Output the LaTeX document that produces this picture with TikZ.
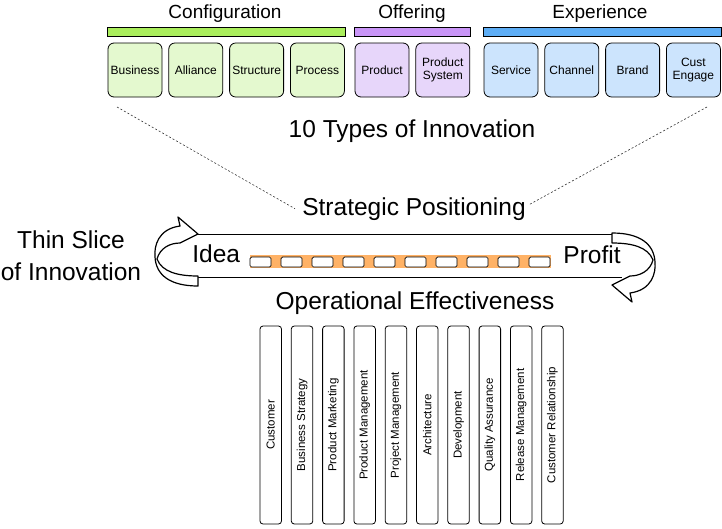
\documentclass[tikz,border=0pt]{standalone}
\usepackage{fontspec}
\setmainfont{Liberation Sans}
\usetikzlibrary{positioning}

\definecolor{cfgbar}{HTML}{AAEE5C}
\definecolor{cfgfill}{HTML}{E4F9CF}
\definecolor{offbar}{HTML}{C995F7}
\definecolor{offfill}{HTML}{E7D6FA}
\definecolor{expbar}{HTML}{5DADF5}
\definecolor{expfill}{HTML}{CCE4FD}
\definecolor{chain}{HTML}{FFB266}

\newcommand{\uturnarrow}{%
  \draw[turnarrow] (198,234) -- (178,217) -- (180,226)
    .. controls (158,229) and (154,246) .. (155,257)
    .. controls (156,275) and (170,286) .. (198,286) -- (198,276)
    .. controls (178,276) and (162,272) .. (157,259)
    .. controls (160,248) and (170,243) .. (180,243) -- cycle;}

\begin{document}
\begin{tikzpicture}[x=1pt, y=-1pt, line width=0.8pt,
  typebox/.style={draw, rounded corners=6pt, minimum width=54pt, minimum height=54pt,
    inner sep=1pt, align=center, font=\fontsize{12}{13}\selectfont},
  groupbar/.style={draw, line width=0.6pt},
  grouptitle/.style={anchor=base, font=\fontsize{19}{22}\selectfont},
  bigtext/.style={anchor=base, inner sep=0pt, font=\fontsize{24.5}{30}\selectfont},
  sprint/.style={draw, fill=white, rounded corners=1.5pt, line width=0.7pt,
    minimum width=21pt, minimum height=10pt, inner sep=0pt},
  rolebox/.style={draw, rounded corners=3pt, line width=0.8pt,
    minimum width=21.5pt, minimum height=198pt, inner sep=0pt},
  rolelabel/.style={rotate=90, inner sep=0pt, font=\fontsize{11.5}{13}\selectfont},
  turnarrow/.style={draw, fill=white, line width=1.2pt, line join=round},
  fan/.style={dash pattern=on 2pt off 2pt, line width=0.6pt, black!80}]
\useasboundingbox (0,0) rectangle (722,528);

% 10 types
\node[typebox, fill=cfgfill] (business) at (135,70) {Business};
\node[typebox, fill=cfgfill, right=6pt of business] (alliance) {Alliance};
\node[typebox, fill=cfgfill, right=6pt of alliance] (structure) {Structure};
\node[typebox, fill=cfgfill, right=6pt of structure] (process) {Process};
\node[typebox, fill=offfill] (product) at (382,70) {Product};
\node[typebox, fill=offfill, right=6pt of product] (prodsystem) {Product\\System};
\node[typebox, fill=expfill] (service) at (511,70) {Service};
\node[typebox, fill=expfill, right=6pt of service] (channel) {Channel};
\node[typebox, fill=expfill, right=6pt of channel] (brand) {Brand};
\node[typebox, fill=expfill, right=6pt of brand] (custengage) {Cust\\Engage};

\draw[groupbar, fill=cfgbar] ([yshift=6pt]business.north west) rectangle ([yshift=15pt]process.north east);
\draw[groupbar, fill=offbar] ([yshift=6pt]product.north west) rectangle ([yshift=15pt]prodsystem.north east);
\draw[groupbar, fill=expbar] ([yshift=6pt]service.north west) rectangle ([yshift=15pt]custengage.north east);

\node[grouptitle] (configuration) at (225,18) {Configuration};
\node[grouptitle] (offering) at (412,18) {Offering};
\node[grouptitle] (experience) at (600,18) {Experience};

\node[bigtext] (tentypes) at (412,137) {10 Types of Innovation};
\node[bigtext] (strategic) at (414,215) {Strategic Positioning};
\node[bigtext] (operational) at (415,309) {Operational Effectiveness};
\node[bigtext] (thinslice) at (71,248) {Thin Slice};
\node[bigtext] (ofinnovation) at (71,280) {of Innovation};
\node[bigtext, anchor=base west] (idea) at (192,262) {Idea};
\node[bigtext, anchor=base west] (profit) at (563,263) {Profit};

\coordinate (fanL) at (117,107);
\coordinate (fanR) at (707,107);
\draw[fan] (fanL) -- ([xshift=-7pt]strategic.west);
\draw[fan] (fanR) -- ([xshift=3pt,yshift=4pt]strategic.east);

% thin slice
\draw[line width=1pt] (198,234) -- (612,234);
\draw[line width=1pt] (198,277) -- (622,277);
\fill[chain] (250,255) rectangle (551,268);
\foreach \i in {0,...,9}
  \node[sprint] (sprint\i) at (260.5+31*\i,262) {};

\uturnarrow
\begin{scope}[rotate around={180:(405,259.5)}]
  \uturnarrow
\end{scope}

% roles
\foreach \role [count=\i from 0] in {Customer, Business Strategy,
    Product Marketing, Product Management, Project Management,
    Architecture, Development, Quality Assurance,
    Release Management, Customer Relationship} {
  \node[rolebox] (role\i) at (270.75+31.3*\i,425) {};
  \node[rolelabel] (label\i) at (role\i) {\role};
}
\end{tikzpicture}
\end{document}
